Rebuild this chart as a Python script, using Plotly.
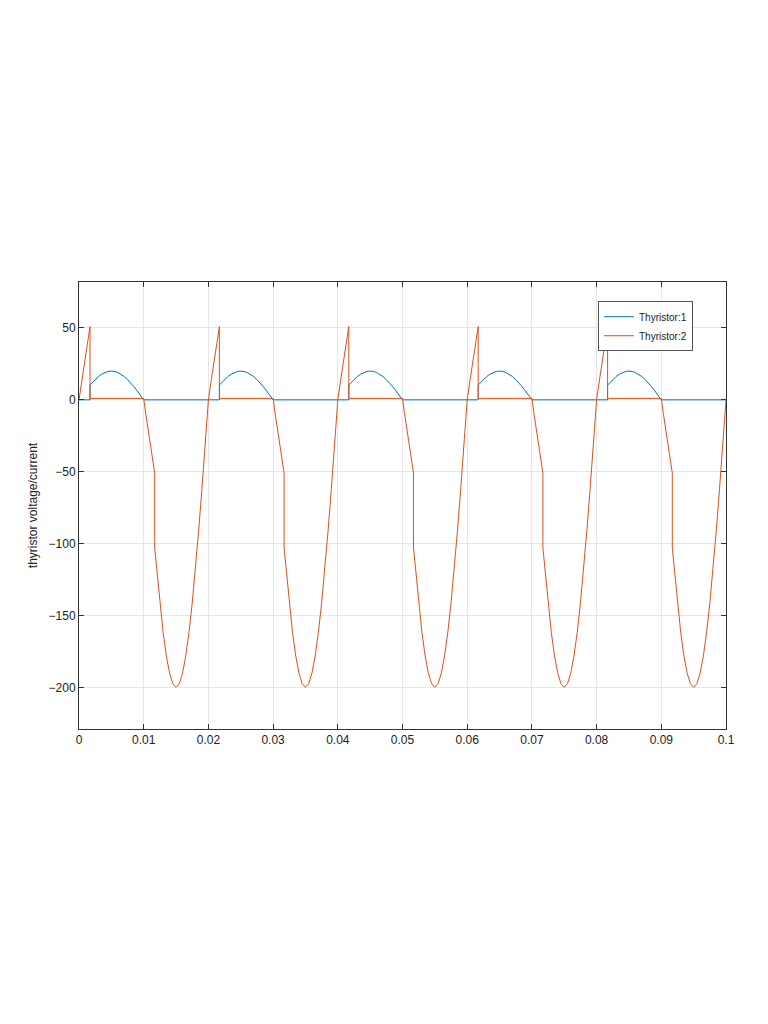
import plotly.graph_objects as go

# one 20 ms period (time offsets within a period, values)
period_starts = [0.0, 0.02, 0.04, 0.06, 0.08]

tv_period = [0.0000, 0.0005, 0.0010, 0.0017, 0.0017, 0.0100, 0.0103, 0.0107, 0.0112, 0.0117,
             0.0117, 0.0120, 0.0125, 0.0130, 0.0135, 0.0140, 0.0145, 0.0150, 0.0155, 0.0160,
             0.0165, 0.0170, 0.0175, 0.0180, 0.0185, 0.0190, 0.0195]
v_thy2_period = [0, 15.6, 30.9, 51, 1, 1, -9, -21, -37, -51,
                 -103, -117.6, -141.4, -161.8, -178.2, -190.2, -197.5, -200, -197.5, -190.2,
                 -178.2, -161.8, -141.4, -117.6, -90.8, -61.8, -31.3]

ti_period = [0.0000, 0.0017, 0.0017, 0.0020, 0.0025, 0.0030, 0.0035, 0.0040, 0.0045, 0.0050,
             0.0055, 0.0060, 0.0065, 0.0070, 0.0075, 0.0080, 0.0085, 0.0090, 0.0095, 0.0100]
i_thy1_period = [0, 0, 10.3, 11.8, 14.1, 16.2, 17.8, 19.0, 19.8, 20,
                 19.8, 19.0, 17.8, 16.2, 14.1, 11.8, 9.1, 6.2, 3.1, 0]

t_end = 0.1
v_end = 0
i_end = 0

x_ticks = [0, 0.01, 0.02, 0.03, 0.04, 0.05, 0.06, 0.07, 0.08, 0.09, 0.1]
x_labels = ["0", "0.01", "0.02", "0.03", "0.04", "0.05", "0.06", "0.07", "0.08", "0.09", "0.1"]
y_ticks = [-200, -150, -100, -50, 0, 50]

t_v, v_thy2, t_i, i_thy1 = [], [], [], []
for s in period_starts:
    t_v += [s + t for t in tv_period]
    v_thy2 += v_thy2_period
    t_i += [s + t for t in ti_period]
    i_thy1 += i_thy1_period
t_v.append(t_end); v_thy2.append(v_end)
t_i.append(t_end); i_thy1.append(i_end)

fig = go.Figure()
fig.add_trace(go.Scatter(x=t_i, y=i_thy1, mode="lines", name="Thyristor:1",
                         line=dict(color="#0072BD", width=1)))
fig.add_trace(go.Scatter(x=t_v, y=v_thy2, mode="lines", name="Thyristor:2",
                         line=dict(color="#D95319", width=1)))

ax = dict(showline=True, linecolor="#333", mirror="ticks", ticks="inside", ticklen=5,
          tickcolor="#333", showgrid=True, gridcolor="#e6e6e6", zeroline=False,
          tickfont=dict(family="Liberation Sans, Arial", size=12, color="#222"))
fig.update_xaxes(range=[0, 0.1], tickvals=x_ticks, ticktext=x_labels, **ax)
fig.update_yaxes(range=[-229, 82], tickvals=y_ticks,
                 title=dict(text="thyristor voltage/current", standoff=8,
                            font=dict(family="Liberation Sans, Arial", size=12, color="#222")), **ax)
fig.update_layout(
    width=768, height=1024, paper_bgcolor="white", plot_bgcolor="white",
    margin=dict(l=71, r=50, t=274, b=303),
    showlegend=True,
    legend=dict(x=0.949, y=0.957, xanchor="right", yanchor="top", bgcolor="white",
                bordercolor="#555", borderwidth=1,
                font=dict(family="Liberation Sans, Arial", size=10, color="#222"),
                tracegroupgap=0, itemwidth=30, entrywidthmode="pixels"),
)
fig.write_html("out.html")
